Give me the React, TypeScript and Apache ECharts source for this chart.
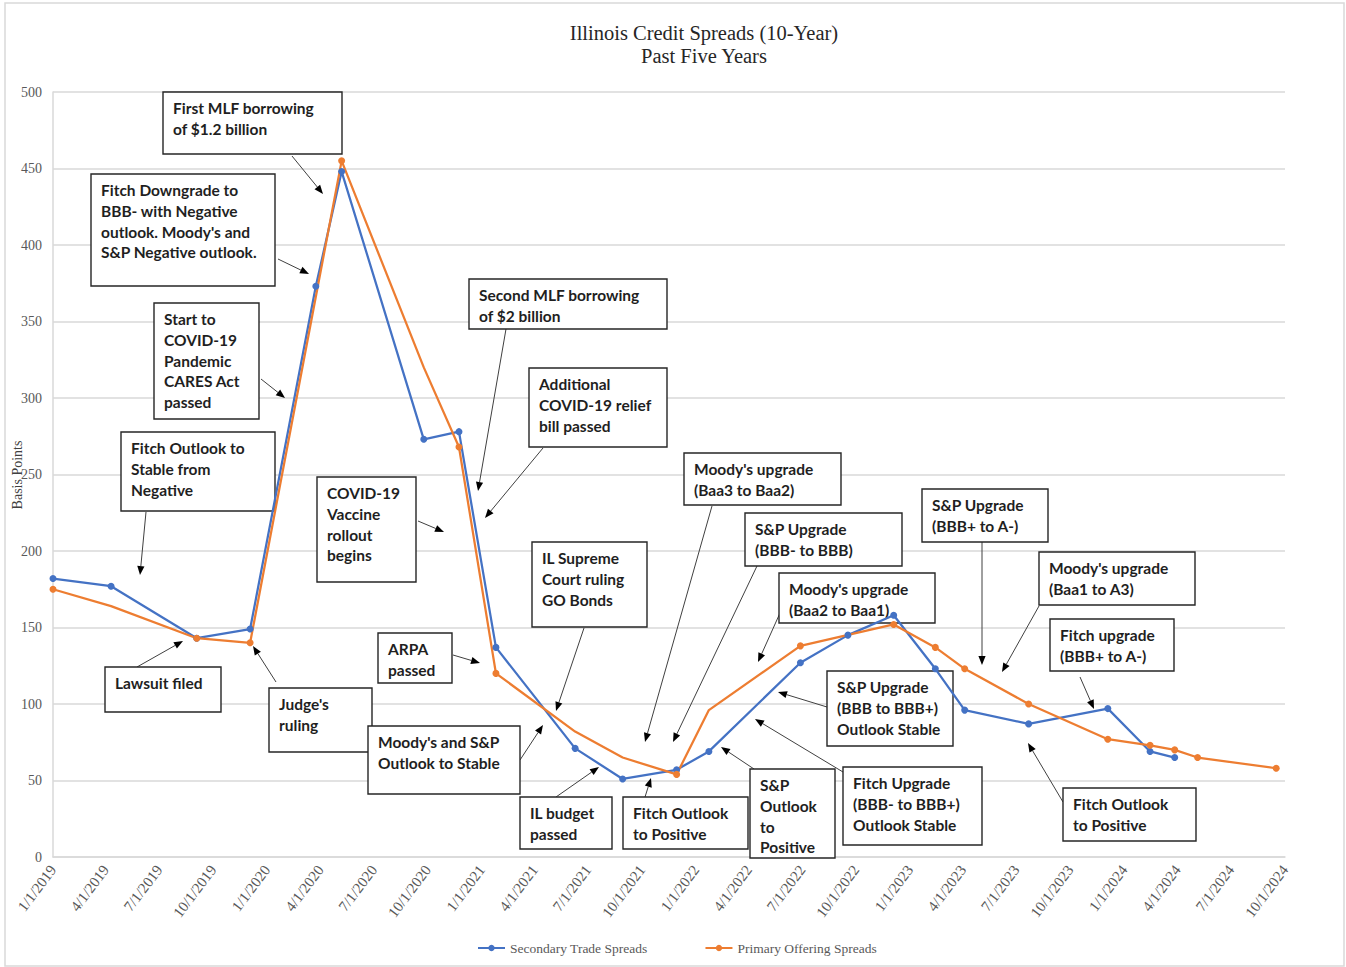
import React, { useEffect, useRef } from 'react';
import * as echarts from 'echarts';

// ---------- data ----------
const xTickLabels = [
  '1/1/2019', '4/1/2019', '7/1/2019', '10/1/2019',
  '1/1/2020', '4/1/2020', '7/1/2020', '10/1/2020',
  '1/1/2021', '4/1/2021', '7/1/2021', '10/1/2021',
  '1/1/2022', '4/1/2022', '7/1/2022', '10/1/2022',
  '1/1/2023', '4/1/2023', '7/1/2023', '10/1/2023',
  '1/1/2024', '4/1/2024', '7/1/2024', '10/1/2024',
];

const secondaryDates = [
  '2019-01-01', '2019-04-10', '2019-09-03', '2019-12-03', '2020-03-24', '2020-05-07',
  '2020-09-24', '2020-11-23', '2021-01-25', '2021-06-09', '2021-08-29', '2021-11-29',
  '2022-01-23', '2022-06-28', '2022-09-17', '2022-12-04', '2023-02-13', '2023-04-04',
  '2023-07-22', '2023-12-04', '2024-02-14', '2024-03-27',
];
const secondaryValues = [
  182, 177, 143, 149, 373, 448,
  273, 278, 137, 71, 51, 57,
  69, 127, 145, 158, 123, 96,
  87, 97, 69, 65,
];

const primaryDates = [
  '2019-01-01', '2019-04-10', '2019-09-03', '2019-12-03', '2020-05-07', '2020-09-24',
  '2020-11-23', '2021-01-25', '2021-06-09', '2021-08-29', '2021-11-29', '2022-01-23',
  '2022-06-28', '2022-12-04', '2023-02-13', '2023-04-04', '2023-07-22', '2023-12-04',
  '2024-02-14', '2024-03-27', '2024-05-05', '2024-09-16',
];
const primaryValues = [
  175, 164, 143, 140, 455, 320,
  268, 120, 82, 65, 54, 96,
  138, 152, 137, 123, 100, 77,
  73, 70, 65, 58,
];
// points of the primary series drawn without a marker
const primaryUnmarkedDates = ['2019-04-10', '2020-09-24', '2021-06-09', '2021-08-29', '2022-01-23'];

const seriesNames = ['Secondary Trade Spreads', 'Primary Offering Spreads'];
const yAxisTitle = 'Basis Points';

const annotationTexts = [
  ['First MLF borrowing', 'of $1.2 billion'],
  ['Fitch Downgrade to', 'BBB- with Negative', "outlook. Moody's and", 'S&P Negative outlook.'],
  ['Start to', 'COVID-19', 'Pandemic', 'CARES Act', 'passed'],
  ['Fitch Outlook to', 'Stable from', 'Negative'],
  ['Lawsuit filed'],
  ["Judge's", 'ruling'],
  ['COVID-19', 'Vaccine', 'rollout', 'begins'],
  ['Second MLF borrowing', 'of $2 billion'],
  ['Additional', 'COVID-19 relief', 'bill passed'],
  ['ARPA', 'passed'],
  ['IL Supreme', 'Court ruling', 'GO Bonds'],
  ["Moody's and S&P", 'Outlook to Stable'],
  ['IL budget', 'passed'],
  ['Fitch Outlook', 'to Positive'],
  ["Moody's upgrade", '(Baa3 to Baa2)'],
  ['S&P Upgrade', '(BBB- to BBB)'],
  ["Moody's upgrade", '(Baa2 to Baa1)'],
  ['S&P', 'Outlook', 'to', 'Positive'],
  ['S&P Upgrade', '(BBB+ to A-)'],
  ["Moody's upgrade", '(Baa1 to A3)'],
  ['Fitch upgrade', '(BBB+ to A-)'],
  ['S&P Upgrade', '(BBB to BBB+)', 'Outlook Stable'],
  ['Fitch Upgrade', '(BBB- to BBB+)', 'Outlook Stable'],
  ['Fitch Outlook', 'to Positive'],
];

// layout of annotation boxes: [x, y, w, h] and arrows [x1, y1, x2(tip), y2(tip)] in pixels
const annotationBoxes = [
  [163, 92, 179, 62],
  [91, 174, 184, 112],
  [154, 303, 105, 116],
  [121, 432, 154, 79],
  [105, 667, 116, 45],
  [269, 688, 103, 64],
  [317, 477, 99, 105],
  [469, 279, 198, 50],
  [529, 368, 138, 79],
  [378, 633, 74, 50],
  [532, 542, 115, 85],
  [368, 726, 152, 68],
  [520, 797, 92, 52],
  [623, 797, 125, 52],
  [684, 453, 157, 52],
  [745, 513, 157, 53],
  [779, 573, 156, 50],
  [750, 769, 85, 89],
  [922, 489, 126, 53],
  [1039, 552, 156, 53],
  [1050, 619, 124, 52],
  [827, 671, 126, 75],
  [843, 767, 139, 78],
  [1063, 788, 133, 53],
];
const annotationArrows = [
  [292, 156, 323, 194],
  [278, 259, 309, 274],
  [261, 379, 285, 398],
  [146, 512, 140, 575],
  [137, 667, 183, 641],
  [276, 682, 253, 646],
  [418, 521, 444, 532],
  [506, 329, 478, 491],
  [543, 448, 485, 518],
  [453, 655, 480, 663],
  [584, 628, 556, 711],
  [520, 760, 543, 725],
  [556, 797, 599, 767],
  [645, 797, 651, 778],
  [712, 506, 645, 742],
  [757, 566, 673, 742],
  [780, 613, 758, 662],
  [754, 769, 721, 747],
  [982, 542, 982, 665],
  [1039, 606, 1002, 672],
  [1080, 677, 1094, 709],
  [827, 707, 778, 692],
  [843, 772, 755, 719],
  [1063, 802, 1028, 743],
];

// ---------- helpers ----------
const isoToTs = (s: string) => {
  const [y, m, d] = s.split('-').map(Number);
  return Date.UTC(y, m - 1, d);
};
const usToTs = (s: string) => {
  const [m, d, y] = s.split('/').map(Number);
  return Date.UTC(y, m - 1, d);
};
const tsToUs = (v: number) => {
  const dt = new Date(v);
  return `${dt.getUTCMonth() + 1}/${dt.getUTCDate()}/${dt.getUTCFullYear()}`;
};

const BLUE = '#4472C4';
const ORANGE = '#ED7D31';
const SERIF = '"Liberation Serif", "Times New Roman", serif';
const BOX_FONT = 'bold 15.5px Lato, "Open Sans", sans-serif';

function arrowElements(a: number[]) {
  const [x1, y1, x2, y2] = a;
  const dx = x2 - x1;
  const dy = y2 - y1;
  const len = Math.sqrt(dx * dx + dy * dy) || 1;
  const ux = dx / len;
  const uy = dy / len;
  const L = 9;
  const W = 3.6;
  const bx = x2 - ux * L;
  const by = y2 - uy * L;
  const px = -uy;
  const py = ux;
  return [
    {
      type: 'line',
      z: 1,
      shape: { x1, y1, x2: bx, y2: by },
      style: { stroke: '#404040', lineWidth: 1 },
    },
    {
      type: 'polygon',
      z: 1,
      shape: { points: [[x2, y2], [bx + px * W, by + py * W], [bx - px * W, by - py * W]] },
      style: { fill: '#000' },
    },
  ];
}

function boxElements(b: number[], lines: string[]) {
  const [x, y, w, h] = b;
  return [
    {
      type: 'rect',
      z: 1,
      shape: { x, y, width: w, height: h },
      style: { fill: '#ffffff', stroke: '#262626', lineWidth: 1.4 },
    },
    {
      type: 'text',
      z: 1,
      x: x + 10,
      y: y + 6,
      style: {
        text: lines.join('\n'),
        font: BOX_FONT,
        lineHeight: 20.7,
        fill: '#1f1f1f',
        align: 'left',
        verticalAlign: 'top',
      },
    },
  ];
}

export default function App() {
  const ref = useRef<HTMLDivElement>(null);

  useEffect(() => {
    document.body.style.margin = '0';
    if (!ref.current) return;
    const chart = echarts.init(ref.current, undefined, { renderer: 'svg' });

    const secondaryData = secondaryDates.map((d, i) => [isoToTs(d), secondaryValues[i]]);
    const primaryData = primaryDates.map((d, i) => ({
      value: [isoToTs(d), primaryValues[i]],
      symbol: primaryUnmarkedDates.includes(d) ? 'none' : 'circle',
    }));
    const tickValues = xTickLabels.map(usToTs);

    const graphics: any[] = [
      {
        type: 'rect',
        z: 0,
        shape: { x: 5, y: 3, width: 1339, height: 963 },
        style: { fill: 'none', stroke: '#d9d9d9', lineWidth: 1.5 },
      },
      {
        type: 'text',
        z: 1,
        x: 17,
        y: 475,
        rotation: Math.PI / 2,
        style: {
          text: yAxisTitle,
          font: `14px ${SERIF}`,
          fill: '#404040',
          align: 'center',
          verticalAlign: 'middle',
        },
      },
    ];
    annotationBoxes.forEach((b, i) => {
      graphics.push(...arrowElements(annotationArrows[i]));
      graphics.push(...boxElements(b, annotationTexts[i]));
    });

    chart.setOption({
      animation: false,
      backgroundColor: '#ffffff',
      title: {
        text: 'Illinois Credit Spreads (10-Year)\nPast Five Years',
        left: 699,
        top: 16,
        textAlign: 'center',
        textStyle: {
          fontFamily: SERIF,
          fontSize: 20.5,
          fontWeight: 'normal',
          color: '#262626',
          lineHeight: 23,
        },
      },
      grid: {
        left: 53,
        right: 61,
        top: 92,
        bottom: 110,
        containLabel: false,
        outerBoundsMode: 'none',
      },
      xAxis: {
        type: 'value',
        min: tickValues[0],
        max: tickValues[tickValues.length - 1],
        axisLine: { show: true, lineStyle: { color: '#d9d9d9', width: 1.5 } },
        axisTick: { show: false },
        splitLine: { show: false },
        axisLabel: {
          customValues: tickValues,
          formatter: (v: number) => tsToUs(v),
          rotate: 53,
          margin: 10,
          color: '#595959',
          fontFamily: SERIF,
          fontSize: 15,
          showMinLabel: true,
          showMaxLabel: true,
        },
      },
      yAxis: {
        type: 'value',
        min: 0,
        max: 500,
        interval: 50,
        axisLine: { show: true, lineStyle: { color: '#d9d9d9', width: 1.5 } },
        axisTick: { show: false },
        splitLine: { show: true, lineStyle: { color: '#d9d9d9', width: 1.5 } },
        axisLabel: {
          margin: 11,
          color: '#595959',
          fontFamily: SERIF,
          fontSize: 14,
        },
      },
      legend: {
        data: seriesNames,
        left: 472,
        top: 936,
        itemWidth: 27,
        itemHeight: 8,
        itemGap: 57,
        textStyle: { fontFamily: SERIF, fontSize: 13.5, color: '#595959' },
      },
      graphic: { elements: graphics },
      series: [
        {
          name: seriesNames[0],
          type: 'line',
          data: secondaryData,
          color: BLUE,
          symbol: 'circle',
          symbolSize: 7,
          showSymbol: true,
          showAllSymbol: true,
          lineStyle: { width: 2.25, color: BLUE },
          itemStyle: { color: BLUE },
          z: 3,
        },
        {
          name: seriesNames[1],
          type: 'line',
          data: primaryData,
          color: ORANGE,
          symbol: 'circle',
          symbolSize: 7,
          showSymbol: true,
          showAllSymbol: true,
          lineStyle: { width: 2.25, color: ORANGE },
          itemStyle: { color: ORANGE },
          z: 3,
        },
      ],
    });

    return () => {
      chart.dispose();
    };
  }, []);

  return <div ref={ref} style={{ width: 1346, height: 967 }} />;
}
